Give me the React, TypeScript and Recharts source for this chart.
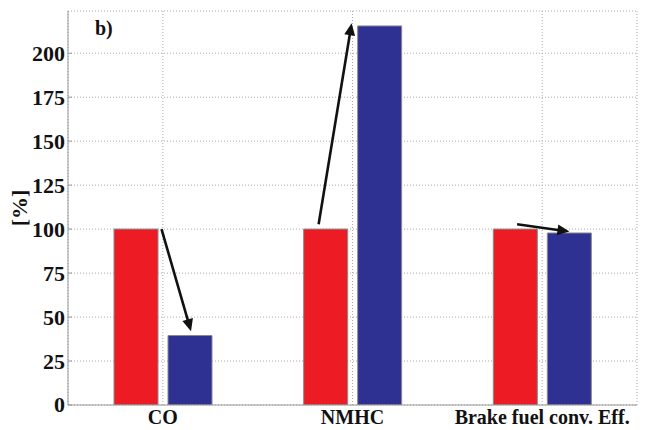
import React from 'react';
import { ComposedChart, Bar, XAxis, YAxis, CartesianGrid, Label, LabelList } from 'recharts';

const categories = ['CO', 'NMHC', 'Brake fuel conv. Eff.'];
const baseValues = [100, 100, 100];
const modValues = [39.5, 215.5, 97.8];
const yTicks = [0, 25, 50, 75, 100, 125, 150, 175, 200];

// arrow annotations: x in bar-widths from the left edge of the red bar, y in percent
const arrowStartX = [1.08, 0.34, 0.54];
const arrowStartY = [100, 102.8, 102.8];
const arrowEndX = [1.75, 1.09, 1.73];
const arrowEndY = [42, 217, 98.6];

const data = categories.map((c, i) => ({ name: c, base: baseValues[i], mod: modValues[i] }));

const FONT = '"Liberation Serif", "Times New Roman", serif';

const drawArrow = (x1: number, y1: number, x2: number, y2: number) => {
  const dx = x2 - x1;
  const dy = y2 - y1;
  const len = Math.sqrt(dx * dx + dy * dy) || 1;
  const ux = dx / len;
  const uy = dy / len;
  const hl = 12;
  const hw = 5.5;
  const bx = x2 - ux * hl;
  const by = y2 - uy * hl;
  const px = -uy;
  const py = ux;
  const pts = `${x2},${y2} ${bx + px * hw},${by + py * hw} ${bx - px * hw},${by - py * hw}`;
  return (
    <g>
      <line x1={x1} y1={y1} x2={x2 - ux * (hl - 2)} y2={y2 - uy * (hl - 2)} stroke="#111" strokeWidth={2.6} />
      <polygon points={pts} fill="#111" />
    </g>
  );
};

const ArrowLabel = (props: any) => {
  const vb = props.viewBox || {};
  const x = props.x ?? vb.x;
  const y = props.y ?? vb.y;
  const width = props.width ?? vb.width;
  const height = props.height ?? vb.height;
  const value = Number(props.value);
  const i = props.index;
  if (x == null || y == null || !width || !height || !value || i == null) return null;
  const bottom = y + height;
  const ppu = height / value;
  const sx = x + arrowStartX[i] * width;
  const sy = bottom - arrowStartY[i] * ppu;
  const ex = x + arrowEndX[i] * width;
  const ey = bottom - arrowEndY[i] * ppu;
  return drawArrow(sx, sy, ex, ey);
};

const YTick = (props: any) => {
  const { x, y, payload } = props;
  return (
    <g>
      <text x={x} y={y} dy="0.34em" textAnchor="end" fill="#111" fontSize={22} fontWeight="bold" fontFamily={FONT}>
        {payload.value}
      </text>
      <line x1={x + 3} x2={x + 7} y1={y} y2={y} stroke="#999" strokeWidth={1} />
    </g>
  );
};

const YLabels = (props: any) => {
  const vb = props.viewBox || { x: 0, y: 11, width: 68, height: 394 };
  const cx = vb.x + 20;
  const cy = vb.y + vb.height / 2;
  return (
    <g>
      <text x={cx} y={cy} dy="0.34em" transform={`rotate(-90 ${cx} ${cy})`} textAnchor="middle" fill="#111" fontSize={22} fontWeight="bold" fontFamily={FONT}>
        [%]
      </text>
      <text x={vb.x + vb.width + 27} y={vb.y + 24} textAnchor="start" fill="#111" fontSize={20} fontWeight="bold" fontFamily={FONT}>
        b)
      </text>
    </g>
  );
};

export default function App() {
  return (
    <div style={{ position: 'absolute', left: 0, top: 0, background: '#fff' }}>
      <ComposedChart width={647} height={430} data={data} margin={{ top: 11, right: 10, left: 0, bottom: 0 }} barSize={44} barGap={10}>
        <CartesianGrid stroke="#aaa" strokeDasharray="1 2" />
        <XAxis
          dataKey="name"
          height={25}
          tickSize={0}
          tickMargin={5}
          axisLine={{ stroke: '#999' }}
          tickLine={false}
          tick={{ fill: '#111', fontSize: 20, fontWeight: 'bold', fontFamily: FONT }}
          interval={0}
        />
        <XAxis
          xAxisId="top"
          dataKey="name"
          orientation="top"
          height={0}
          tick={false}
          tickLine={false}
          axisLine={{ stroke: '#999' }}
        />
        <YAxis
          width={68}
          domain={[0, 224]}
          ticks={yTicks}
          allowDataOverflow
          tickSize={0}
          tickMargin={3}
          tickLine={false}
          axisLine={{ stroke: '#999' }}
          tick={<YTick />}
        >
          <Label content={<YLabels />} />
        </YAxis>
        <YAxis
          yAxisId="r"
          orientation="right"
          width={0}
          domain={[0, 224]}
          tick={false}
          tickLine={false}
          axisLine={{ stroke: '#999' }}
        />
        <Bar dataKey="base" fill="#ED1C24" stroke="#8a8a8a" strokeWidth={1} isAnimationActive={false}>
          <LabelList dataKey="base" content={<ArrowLabel />} />
        </Bar>
        <Bar dataKey="mod" fill="#2E3192" stroke="#8a8a8a" strokeWidth={1} isAnimationActive={false} />
      </ComposedChart>
    </div>
  );
}
